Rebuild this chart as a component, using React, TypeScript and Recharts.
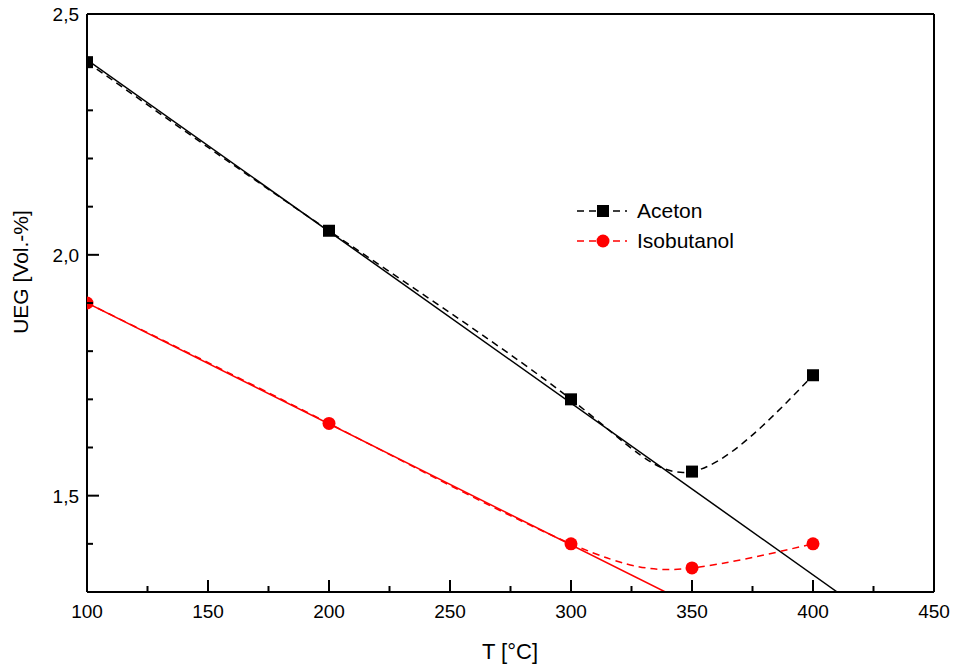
import { FC } from "react";
import { Label, Legend, Line, LineChart, XAxis, YAxis } from "recharts";

// measured values
const temps = [100, 200, 300, 350, 400];
const aceton = [2.4, 2.05, 1.7, 1.55, 1.75];
const isobutanol = [1.9, 1.65, 1.4, 1.35, 1.4];

// linear fits (first three points), drawn until they leave the frame
const acetonFitT = [100, 410];
const acetonFit = [2.405, 1.3];
const isoFitT = [100, 339];
const isoFit = [1.9, 1.3];

const xTicks = [100, 125, 150, 175, 200, 225, 250, 275, 300, 325, 350, 375, 400, 425, 450];
const yTicks = [1.3, 1.4, 1.5, 1.6, 1.7, 1.8, 1.9, 2.0, 2.1, 2.2, 2.3, 2.4, 2.5];

const FONT = "'Liberation Sans', Arial, sans-serif";

const acetonData = temps.map((t, i) => ({ t, v: aceton[i] }));
const isoData = temps.map((t, i) => ({ t, v: isobutanol[i] }));
const acetonFitData = acetonFitT.map((t, i) => ({ t, v: acetonFit[i] }));
const isoFitData = isoFitT.map((t, i) => ({ t, v: isoFit[i] }));

const isMajorY = (v: number) => Math.abs(v * 2 - Math.round(v * 2)) < 1e-6;

const BottomTick: FC<any> = ({ x, y, payload }) => {
  const major = payload.value % 50 === 0;
  return (
    <g>
      <line x1={x} x2={x} y1={y} y2={y - (major ? 12 : 6)} stroke="#000" strokeWidth={2} />
      {major && (
        <text x={x} y={y + 26} textAnchor="middle" fontSize={19} fontFamily={FONT} fill="#000">
          {payload.value}
        </text>
      )}
    </g>
  );
};

const LeftTick: FC<any> = ({ x, y, payload }) => {
  const major = isMajorY(payload.value);
  return (
    <g>
      <line x1={x} x2={x + (major ? 12 : 6)} y1={y} y2={y} stroke="#000" strokeWidth={2} />
      {major && (
        <text x={x - 8} y={y + 7} textAnchor="end" fontSize={19} fontFamily={FONT} fill="#000">
          {payload.value.toFixed(1).replace(".", ",")}
        </text>
      )}
    </g>
  );
};

const TopTick: FC<any> = ({ x, y }) => (
  <line x1={x} x2={x} y1={y} y2={y + 3} stroke="#000" strokeWidth={1.5} />
);

const RightTick: FC<any> = ({ x, y }) => (
  <line x1={x} x2={x - 3} y1={y} y2={y} stroke="#000" strokeWidth={1.5} />
);

const SquareDot: FC<any> = ({ cx, cy }) =>
  cx == null ? null : <rect x={cx - 6} y={cy - 6} width={12} height={12} fill="#000" />;

const CircleDot: FC<any> = ({ cx, cy }) =>
  cx == null ? null : <circle cx={cx} cy={cy} r={6.5} fill="#ff0000" />;

const LegendBox = () => (
  <svg width={220} height={60} style={{ display: "block" }}>
    <line x1={2} x2={52} y1={15} y2={15} stroke="#000" strokeWidth={1.5} strokeDasharray="7 5" />
    <rect x={22} y={9} width={12} height={12} fill="#000" />
    <text x={62} y={22} fontSize={21} fontFamily={FONT} fill="#000">
      Aceton
    </text>
    <line x1={2} x2={52} y1={45} y2={45} stroke="#ff0000" strokeWidth={1.5} strokeDasharray="7 5" />
    <circle cx={28} cy={45} r={6.5} fill="#ff0000" />
    <text x={62} y={52} fontSize={21} fontFamily={FONT} fill="#000">
      Isobutanol
    </text>
  </svg>
);

const App: FC = () => {
  return (
    <div style={{ position: "absolute", left: 0, top: 0, background: "#fff" }}>
      <LineChart
        width={955}
        height={665}
        margin={{ top: 13, right: 20, bottom: 0, left: 0 }}
      >
        <XAxis
          dataKey="t"
          type="number"
          domain={[100, 450]}
          ticks={xTicks}
          interval={0}
          height={73}
          tickSize={0}
          tickMargin={0}
          tickLine={false}
          tick={<BottomTick />}
          axisLine={{ stroke: "#000", strokeWidth: 2 }}
          allowDataOverflow
        >
          <Label
            content={() => (
              <text x={510} y={659} textAnchor="middle" fontSize={22} fontFamily={FONT} fill="#000">
                T [°C]
              </text>
            )}
          />
        </XAxis>
        <XAxis
          xAxisId="top"
          orientation="top"
          type="number"
          domain={[100, 450]}
          ticks={xTicks}
          interval={0}
          height={1}
          tickSize={0}
          tickMargin={0}
          tickLine={false}
          tick={<TopTick />}
          axisLine={{ stroke: "#000", strokeWidth: 2 }}
        />
        <YAxis
          type="number"
          domain={[1.3, 2.5]}
          ticks={yTicks}
          interval={0}
          width={87}
          tickSize={0}
          tickMargin={0}
          tickLine={false}
          tick={<LeftTick />}
          axisLine={{ stroke: "#000", strokeWidth: 2 }}
          allowDataOverflow
        >
          <Label
            content={() => (
              <text
                transform="translate(28,272) rotate(-90)"
                textAnchor="middle"
                fontSize={21}
                fontFamily={FONT}
                fill="#000"
              >
                UEG [Vol.-%]
              </text>
            )}
          />
        </YAxis>
        <YAxis
          yAxisId="right"
          orientation="right"
          type="number"
          domain={[1.3, 2.5]}
          ticks={yTicks}
          interval={0}
          width={1}
          tickSize={0}
          tickMargin={0}
          tickLine={false}
          tick={<RightTick />}
          axisLine={{ stroke: "#000", strokeWidth: 2 }}
        />
        <Legend
          layout="vertical"
          align="center"
          verticalAlign="middle"
          content={() => <LegendBox />}
          wrapperStyle={{ position: "absolute", left: 575, top: 196, width: 220 }}
        />
        <Line
          data={acetonFitData}
          dataKey="v"
          type="linear"
          stroke="#000"
          strokeWidth={1.5}
          dot={false}
          activeDot={false}
          legendType="none"
          isAnimationActive={false}
        />
        <Line
          data={isoFitData}
          dataKey="v"
          type="linear"
          stroke="#ff0000"
          strokeWidth={1.5}
          dot={false}
          activeDot={false}
          legendType="none"
          isAnimationActive={false}
        />
        <Line
          data={acetonData}
          dataKey="v"
          name="Aceton"
          type="natural"
          stroke="#000"
          strokeWidth={1.5}
          strokeDasharray="7 5"
          dot={<SquareDot />}
          activeDot={false}
          isAnimationActive={false}
        />
        <Line
          data={isoData}
          dataKey="v"
          name="Isobutanol"
          type="natural"
          stroke="#ff0000"
          strokeWidth={1.5}
          strokeDasharray="7 5"
          dot={<CircleDot />}
          activeDot={false}
          isAnimationActive={false}
        />
      </LineChart>
    </div>
  );
};

export default App;
